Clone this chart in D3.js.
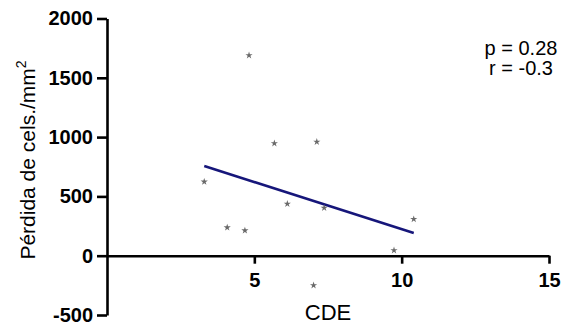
<!DOCTYPE html>
<html>
<head>
<meta charset="utf-8">
<script src="https://cdn.jsdelivr.net/npm/d3@7"></script>
<style>
  html, body { margin: 0; padding: 0; background: #fff; }
  svg { display: block; font-family: Arial, "Liberation Sans", sans-serif; }
</style>
</head>
<body>
<svg id="chart" width="565" height="324"></svg>
<script>
// Data
const cdeValues   = [4.82, 5.68, 7.12, 3.30, 4.08, 4.68, 6.12, 7.37, 10.41, 9.74, 7.01];
const lossValues  = [1689, 947, 960, 624, 238, 213, 437, 403, 308, 45, -250];
const xTicks = [5, 10, 15];
const yTicks = [-500, 0, 500, 1000, 1500, 2000];
const statLines = ["p = 0.28", "r = -0.3"];
const xTitle = "CDE";
const yTitle = "Pérdida de cels./mm";
const yTitleSup = "2";

const svg = d3.select("#chart");
const x = d3.scaleLinear().domain([0, 15]).range([107, 549]);
const y = d3.scaleLinear().domain([-500, 2000]).range([315, 18.5]);
const fmt = d => String(d);

// Y axis
const yAxis = svg.append("g")
  .attr("transform", `translate(${x(0)},0)`)
  .call(d3.axisLeft(y).tickValues(yTicks).tickSize(10).tickSizeOuter(0).tickPadding(4).tickFormat(fmt));
yAxis.select(".domain").attr("stroke", "#000").attr("stroke-width", 2.6);
yAxis.selectAll(".tick line").attr("stroke", "#000").attr("stroke-width", 2.6);
yAxis.selectAll(".tick text").attr("font-size", 20).attr("font-weight", "bold").attr("fill", "#000")
  .attr("font-family", "Arial, 'Liberation Sans', sans-serif");

// X axis at y = 0
const xAxis = svg.append("g")
  .attr("transform", `translate(0,${y(0)})`)
  .call(d3.axisBottom(x).tickValues(xTicks).tickSize(8).tickSizeOuter(0).tickPadding(9).tickFormat(fmt));
xAxis.select(".domain").attr("stroke", "#000").attr("stroke-width", 2.6);
xAxis.selectAll(".tick line").attr("stroke", "#000").attr("stroke-width", 2.6);
xAxis.selectAll(".tick text").attr("font-size", 20).attr("font-weight", "bold").attr("fill", "#000")
  .attr("font-family", "Arial, 'Liberation Sans', sans-serif");

// Linear regression
const n = cdeValues.length;
const mx = d3.mean(cdeValues), my = d3.mean(lossValues);
let sxy = 0, sxx = 0;
for (let i = 0; i < n; i++) {
  sxy += (cdeValues[i] - mx) * (lossValues[i] - my);
  sxx += (cdeValues[i] - mx) ** 2;
}
const slope = sxy / sxx, intercept = my - slope * mx;
const [xmin, xmax] = d3.extent(cdeValues);
svg.append("line")
  .attr("x1", x(xmin)).attr("y1", y(intercept + slope * xmin))
  .attr("x2", x(xmax)).attr("y2", y(intercept + slope * xmax))
  .attr("stroke", "#16167a").attr("stroke-width", 2.6);

// Points (stars)
const star = d3.symbol().type(d3.symbolStar).size(16);
svg.append("g").selectAll("path")
  .data(cdeValues.map((v, i) => [v, lossValues[i]]))
  .join("path")
  .attr("d", star)
  .attr("transform", d => `translate(${x(d[0])},${y(d[1])})`)
  .attr("fill", "#6a6a6a");

// Stats text
svg.append("g").selectAll("text")
  .data(statLines)
  .join("text")
  .attr("x", 521)
  .attr("y", (d, i) => 55 + i * 20)
  .attr("text-anchor", "middle")
  .attr("font-size", 20)
  .attr("fill", "#000")
  .text(d => d);

// X title
svg.append("text")
  .attr("x", 328).attr("y", 320)
  .attr("text-anchor", "middle")
  .attr("font-size", 22)
  .attr("fill", "#000")
  .text(xTitle);

// Y title
const yt = svg.append("text")
  .attr("transform", "translate(35,160) rotate(-90)")
  .attr("text-anchor", "middle")
  .attr("font-size", 21)
  .attr("fill", "#000");
yt.append("tspan").text(yTitle);
yt.append("tspan").attr("font-size", 14).attr("dy", -9).text(yTitleSup);
</script>
</body>
</html>
